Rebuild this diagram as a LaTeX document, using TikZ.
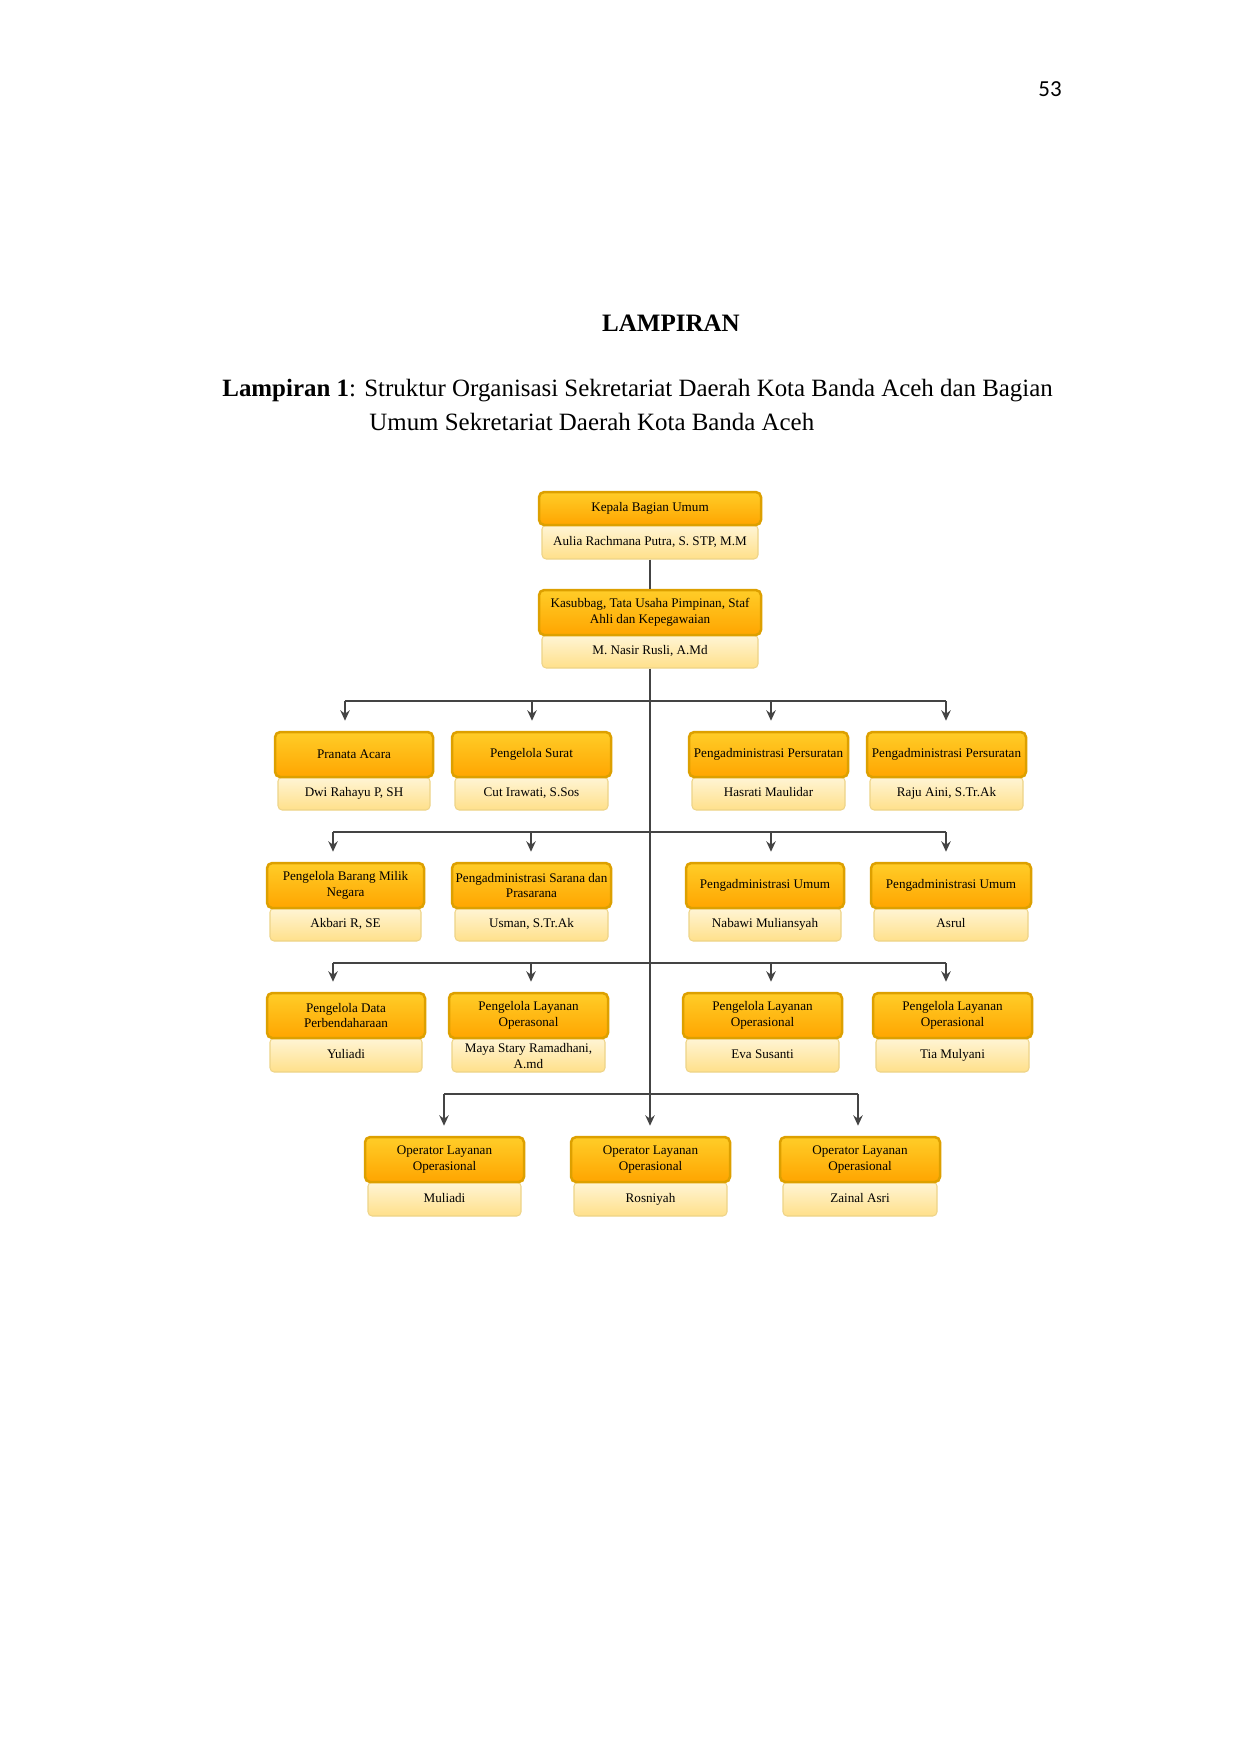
\documentclass[tikz,border=0pt]{standalone}
\usepackage{fontspec}
\setmainfont{Liberation Serif}
\newfontfamily\calibri{Carlito}
\usetikzlibrary{arrows.meta}
\def\pxu{0.4797pt}
\definecolor{oTop}{HTML}{FFCD28}
\definecolor{oBot}{HTML}{FFA500}
\definecolor{oLine}{HTML}{DDA000}
\definecolor{lTop}{HTML}{FFF5D6}
\definecolor{lBot}{HTML}{FFE08A}
\definecolor{lLine}{HTML}{EED488}
\definecolor{cLine}{HTML}{444444}
\tikzset{
  obox/.style={draw=oLine, line width=1.2pt, rounded corners=2.5pt, top color=oTop, bottom color=oBot,
    inner sep=0pt, align=center, font=\fontsize{6.3}{7.6}\selectfont},
  lbox/.style={draw=lLine, line width=0.5pt, rounded corners=2pt, top color=lTop, bottom color=lBot,
    inner sep=0pt, align=center, font=\fontsize{6.3}{7.6}\selectfont},
  conn/.style={draw=cLine, line width=0.7pt},
  arr/.style={conn, -{Stealth[length=5pt,width=4.5pt]}, shorten >=4.8pt},
}
% #1 name #2 xl #3 xr #4 ytop #5 ymid #6 ybot #7 inset #8 title #9 person
\newcommand\orgunit[9]{%
  \node[lbox, minimum width={(#3-#2-2*#7)*\pxu}, minimum height={(#6-#5)*\pxu}]
    (#1p) at ({(#2+#3)/2},{(#5+#6)/2}) {\strut #9};
  \node[obox, minimum width={(#3-#2)*\pxu}, minimum height={(#5-#4)*\pxu}]
    (#1) at ({(#2+#3)/2},{(#4+#5)/2}) {#8};
}
\begin{document}
\begin{tikzpicture}[x=0.4797pt, y=-0.4797pt]
\useasboundingbox[fill=white] (0,0) rectangle (1241,1754);

% page header and caption
\node[anchor=base east, font=\calibri\fontsize{11}{13}\selectfont] (pnum) at (1069,97) {53};
\node[anchor=base, font=\bfseries\fontsize{12}{14}\selectfont] (ttl) at (671,331) {LAMPIRAN};
\node[anchor=base west, inner sep=0pt, font=\fontsize{11.95}{14}\selectfont] (cap1) at (222,396)
  {\textbf{Lampiran 1}: Struktur Organisasi Sekretariat Daerah Kota Banda Aceh dan Bagian};
\node[anchor=base west, inner sep=0pt, font=\fontsize{11.95}{14}\selectfont] (cap2) at (369,430)
  {Umum Sekretariat Daerah Kota Banda Aceh};

% top units
\orgunit{K1}{539}{761}{492}{525}{559}{3}{Kepala Bagian Umum}{Aulia Rachmana Putra, S. STP, M.M}
\orgunit{K2}{539}{761}{590}{635}{668}{3}{Kasubbag, Tata Usaha Pimpinan, Staf\\Ahli dan Kepegawaian}{M. Nasir Rusli, A.Md}

% row 1
\orgunit{A1}{275}{433}{732}{777}{810}{3}{Pranata Acara}{Dwi Rahayu P, SH}
\orgunit{A2}{452}{611}{732}{777}{810}{3}{Pengelola Surat}{Cut Irawati, S.Sos}
\orgunit{A3}{689}{848}{732}{777}{810}{3}{Pengadministrasi Persuratan}{Hasrati Maulidar}
\orgunit{A4}{867}{1026}{732}{777}{810}{3}{Pengadministrasi Persuratan}{Raju Aini, S.Tr.Ak}
% row 2
\orgunit{B1}{267}{424}{863}{908}{941}{3}{Pengelola Barang Milik\\Negara}{Akbari R, SE}
\orgunit{B2}{452}{611}{863}{908}{941}{3}{Pengadministrasi Sarana dan\\Prasarana}{Usman, S.Tr.Ak}
\orgunit{B3}{686}{844}{863}{908}{941}{3}{Pengadministrasi Umum}{Nabawi Muliansyah}
\orgunit{B4}{871}{1031}{863}{908}{941}{3}{Pengadministrasi Umum}{Asrul}
% row 3
\orgunit{C1}{267}{425}{993}{1038}{1072}{3}{Pengelola Data\\Perbendaharaan}{Yuliadi}
\orgunit{C2}{449}{608}{993}{1038}{1072}{3}{Pengelola Layanan\\Operasonal}{Maya Stary Ramadhani,\\A.md}
\orgunit{C3}{683}{842}{993}{1038}{1072}{3}{Pengelola Layanan\\Operasional}{Eva Susanti}
\orgunit{C4}{873}{1032}{993}{1038}{1072}{3}{Pengelola Layanan\\Operasional}{Tia Mulyani}
% row 4
\orgunit{D1}{365}{524}{1137}{1182}{1216}{3}{Operator Layanan\\Operasional}{Muliadi}
\orgunit{D2}{571}{730}{1137}{1182}{1216}{3}{Operator Layanan\\Operasional}{Rosniyah}
\orgunit{D3}{780}{940}{1137}{1182}{1216}{3}{Operator Layanan\\Operasional}{Zainal Asri}

% branch coordinates
\coordinate (r1a) at (345,701); \coordinate (r1b) at (532,701);
\coordinate (r1c) at (771,701); \coordinate (r1d) at (946,701);
\coordinate (r2a) at (333,832); \coordinate (r2b) at (531,832);
\coordinate (r2c) at (771,832); \coordinate (r2d) at (946,832);
\coordinate (r3a) at (333,963); \coordinate (r3b) at (531,963);
\coordinate (r3c) at (771,963); \coordinate (r3d) at (946,963);
\coordinate (r4a) at (444,1094); \coordinate (r4c) at (858,1094);

% connectors
\draw[conn] (K1p.south) -- (K2.north);
\draw[arr] (K2p.south) -- (K2p.south |- D2.north);
\draw[conn] (r1a) -- (r1d);
\draw[conn] (r2a) -- (r2d);
\draw[conn] (r3a) -- (r3d);
\draw[conn] (r4a) -- (r4c);
\foreach \c/\n in {r1a/A1,r1b/A2,r1c/A3,r1d/A4,r2a/B1,r2b/B2,r2c/B3,r2d/B4,r3a/C1,r3b/C2,r3c/C3,r3d/C4,r4a/D1,r4c/D3}
  \draw[arr] (\c) -- (\c |- \n.north);
\end{tikzpicture}
\end{document}
